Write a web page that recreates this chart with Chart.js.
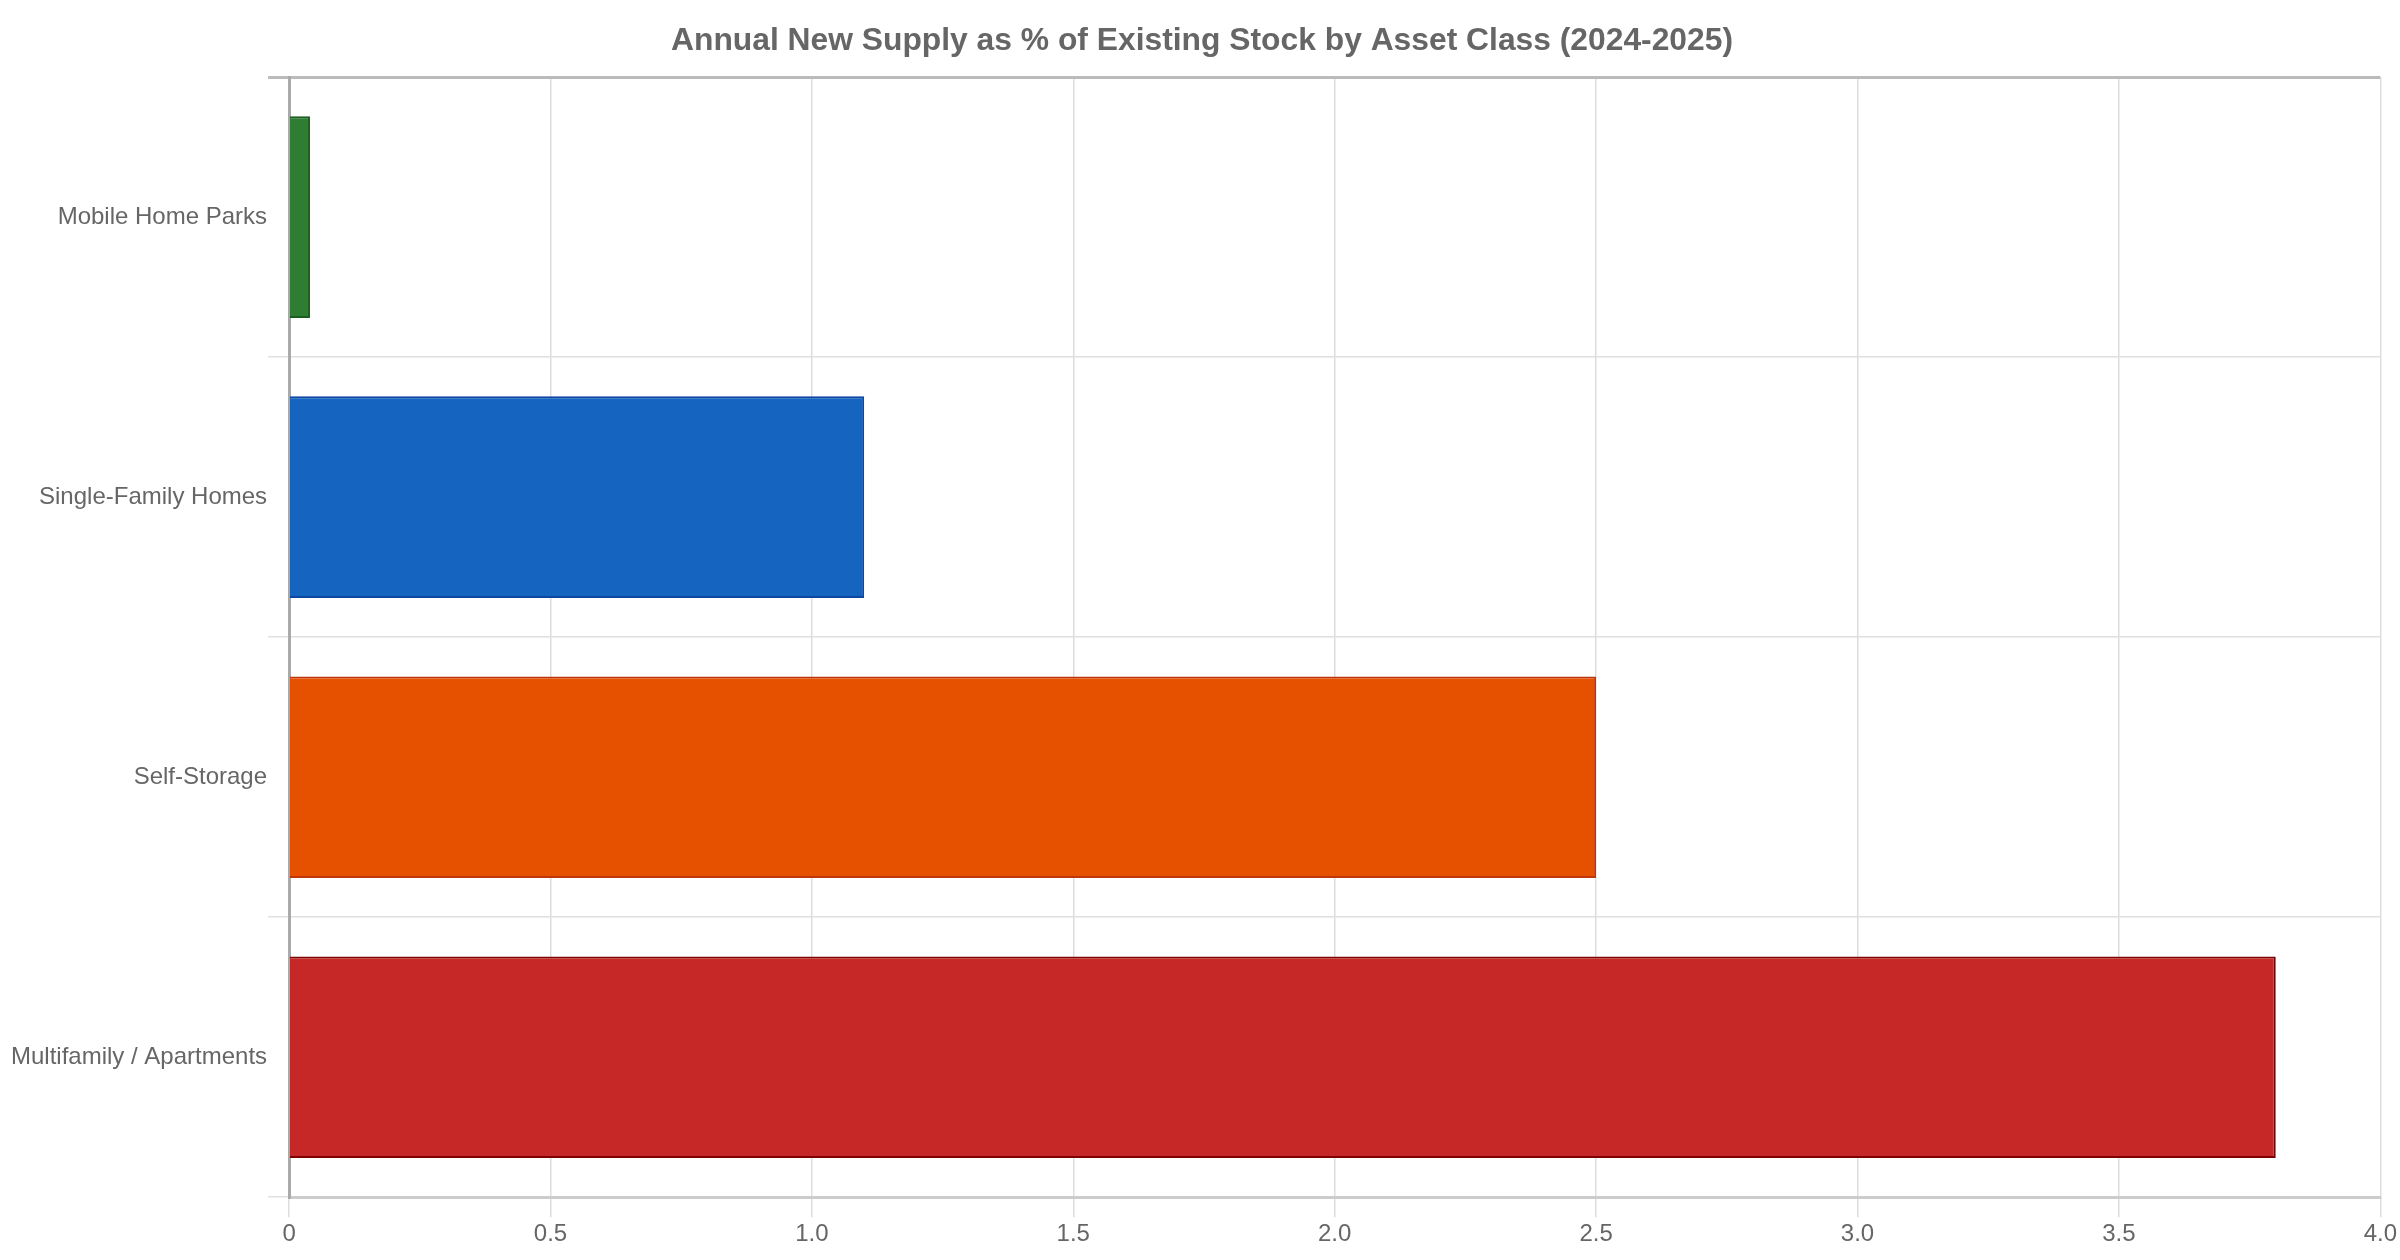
<!DOCTYPE html>
<html>
<head>
<meta charset="utf-8">
<script src="https://cdn.jsdelivr.net/npm/chart.js@4"></script>
<style>
  html, body { margin: 0; padding: 0; background: #fff; }
  #wrap { width: 2400px; height: 1260px; position: relative; }
</style>
</head>
<body>
<div id="wrap"><canvas id="supplyChart"></canvas></div>
<script>
const assetClasses = ["Mobile Home Parks", "Single-Family Homes", "Self-Storage", "Multifamily / Apartments"];
const supplyPct = [0.04, 1.1, 2.5, 3.8];
const barColors = ["#2E7D32", "#1565C0", "#E65100", "#C62828"];
const barBorders = ["#1B5E20", "#0D47A1", "#BF360C", "#7F0000"];

document.addEventListener("DOMContentLoaded", () => {
  const ctx = document.getElementById("supplyChart");
  new Chart(ctx, {
    type: "bar",
    data: {
      labels: assetClasses,
      datasets: [{
        data: supplyPct,
        backgroundColor: barColors,
        borderColor: barBorders,
        borderWidth: 2
      }]
    },
    options: {
      indexAxis: "y",
      responsive: true,
      maintainAspectRatio: false,
      animation: false,
      layout: { padding: { top: 11, right: 6, bottom: 8, left: 10 } },
      plugins: {
        legend: { display: false },
        tooltip: { enabled: false },
        title: {
          display: true,
          text: "Annual New Supply as % of Existing Stock by Asset Class (2024-2025)",
          color: "#666",
          font: { family: "'Liberation Sans', Arial, sans-serif", size: 31.8, weight: "bold" },
          padding: { top: 11, bottom: 17 }
        }
      },
      scales: {
        x: {
          min: 0,
          max: 4,
          ticks: {
            stepSize: 0.5,
            color: "#666",
            padding: 3,
            font: { family: "'Liberation Sans', Arial, sans-serif", size: 24 },
            callback: v => v === 0 ? "0" : v.toFixed(1)
          },
          grid: { color: "#dddddd", lineWidth: 1.5, tickLength: 20 },
          border: { color: "#cccccc", width: 3 }
        },
        y: {
          ticks: {
            color: "#666",
            padding: 1,
            font: { family: "'Liberation Sans', Arial, sans-serif", size: 24 }
          },
          grid: {
            color: c => c.index === 0 ? "#bbbbbb" : "#e0e0e0",
            lineWidth: c => c.index === 0 ? 3 : 1.5,
            tickLength: 21
          },
          border: { color: "#aaaaaa", width: 3 }
        }
      }
    }
  });
});
</script>
</body>
</html>
